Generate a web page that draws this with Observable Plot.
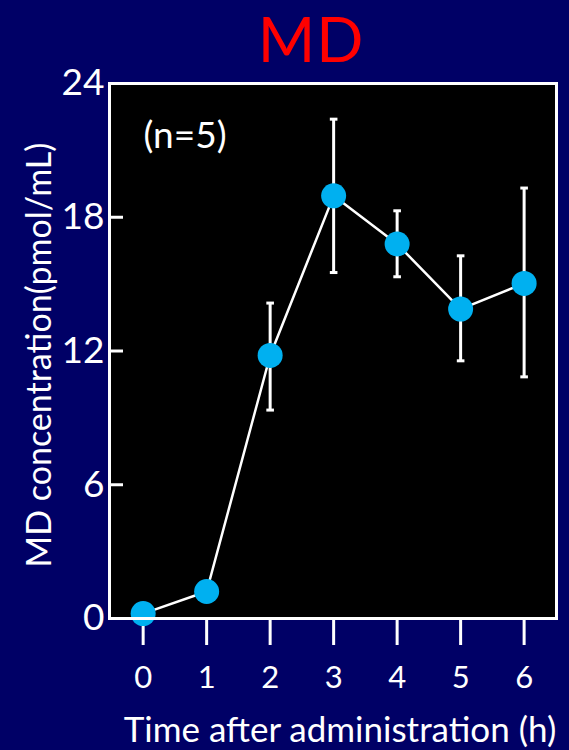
<!DOCTYPE html>
<html>
<head>
<meta charset="utf-8">
<script src="https://cdn.jsdelivr.net/npm/d3@7"></script>
<script src="https://cdn.jsdelivr.net/npm/@observablehq/plot@0.6"></script>
<style>
  html, body { margin: 0; padding: 0; background: #000066; }
  #wrap { position: relative; width: 569px; height: 750px; overflow: hidden; }
  #title { position: absolute; left: 311px; top: 11px; transform: translateX(-50%);
           font-family: Lato, sans-serif; font-size: 62px; line-height: 0.9; color: #ff0000; white-space: nowrap; letter-spacing: 1px; }
  #chart { position: absolute; left: 0; top: 0; }
</style>
</head>
<body>
<div id="wrap">
  <div id="chart"></div>
  <div id="title">MD</div>
</div>
<script>
const titleText = "MD";
const xLabel = "Time after administration (h)";
const yLabel = "MD concentration(pmol/mL)";
const note = "(n=5)";
const times = [0, 1, 2, 3, 4, 5, 6];
const means = [0.22, 1.21, 11.8, 18.96, 16.8, 13.88, 15.03];
const upper = [null, null, 14.15, 22.4, 18.29, 16.27, 19.31];
const lower = [null, null, 9.35, 15.52, 15.33, 11.56, 10.84];
const yTicks = [0, 6, 12, 18, 24];
const xTicks = [0, 1, 2, 3, 4, 5, 6];
const innerTicks = [6, 12, 18];

const data = times.map((t, i) => ({t, m: means[i], hi: upper[i], lo: lower[i]}));
const errs = data.filter(d => d.hi != null);
const capHalf = 0.06;

const W = 569, H = 750, mL = 109, mR = 13, mT = 83, mB = 132;
const frameW = W - mL - mR;

const chart = Plot.plot({
  width: W, height: H,
  marginLeft: mL, marginRight: mR, marginTop: mT, marginBottom: mB,
  style: {background: "transparent", color: "white", fontFamily: "Lato, sans-serif", overflow: "visible"},
  x: {domain: [-0.53, 6.51]},
  y: {domain: [0, 24]},
  marks: [
    Plot.frame({fill: "black"}),
    Plot.tickY(innerTicks, {y: d => d, stroke: "white", strokeWidth: 3, insetRight: frameW - 14}),
    Plot.axisY({ticks: yTicks, tickSize: 0, tickPadding: 5, fontSize: 37, label: null, tickFormat: "d"}),
    Plot.axisX({ticks: xTicks, tickSize: 27, strokeWidth: 3, tickPadding: 20, fontSize: 31, label: null, tickFormat: "d"}),
    Plot.line(data, {x: "t", y: "m", stroke: "white", strokeWidth: 2.5}),
    Plot.ruleX(errs, {x: "t", y1: "lo", y2: "hi", stroke: "white", strokeWidth: 3}),
    Plot.link(errs, {x1: d => d.t - capHalf, x2: d => d.t + capHalf, y1: "hi", y2: "hi", stroke: "white", strokeWidth: 3}),
    Plot.link(errs, {x1: d => d.t - capHalf, x2: d => d.t + capHalf, y1: "lo", y2: "lo", stroke: "white", strokeWidth: 3}),
    Plot.dot(data, {x: "t", y: "m", r: 12.5, fill: "#00b0f0"}),
    Plot.frame({stroke: "white", strokeWidth: 3}),
    Plot.text([note], {frameAnchor: "top-left", dx: 34, dy: 38, lineAnchor: "top", textAnchor: "start", fontSize: 37, fill: "white"}),
    Plot.text([xLabel], {frameAnchor: "bottom", dx: 7, dy: 112, lineAnchor: "middle", textAnchor: "middle", fontSize: 35, fill: "white"}),
    Plot.text([yLabel], {frameAnchor: "left", dx: -69, dy: 4, rotate: -90, lineAnchor: "middle", textAnchor: "middle", fontSize: 34, fill: "white"})
  ]
});
document.getElementById("chart").appendChild(chart);
</script>
</body>
</html>
